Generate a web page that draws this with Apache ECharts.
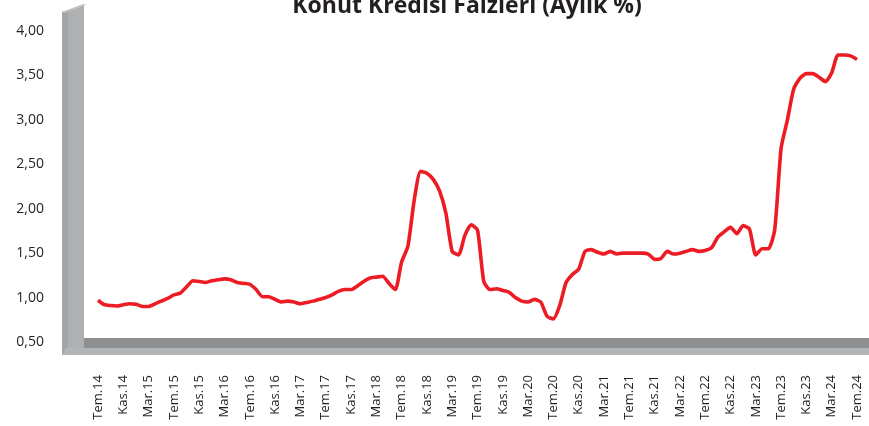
<!DOCTYPE html>
<html>
<head>
<meta charset="utf-8">
<script src="https://cdn.jsdelivr.net/npm/echarts@6/dist/echarts.min.js"></script>
<style>
html,body{margin:0;padding:0;background:#fff;}
#chart{width:869px;height:426px;}
</style>
</head>
<body>
<div id="chart"></div>
<script>
// Monthly categories: Tem.14 ... Tem.24
var monthNames = ['Oca','Şub','Mar','Nis','May','Haz','Tem','Ağu','Eyl','Eki','Kas','Ara'];
var startYear = 2014, startMonth = 6, monthCount = 121;
var categories = [];
for (var k = 0; k < monthCount; k++) {
  var m = (startMonth + k) % 12;
  var y = startYear + Math.floor((startMonth + k) / 12);
  categories.push(monthNames[m] + '.' + String(y).slice(2));
}

// Konut kredisi faizi (aylık %)
var rates = [
  0.97, 0.92, 0.91, 0.905, 0.92, 0.93, 0.925, 0.90, 0.90, 0.93,
  0.96, 0.99, 1.03, 1.05, 1.12, 1.19, 1.18, 1.17, 1.19, 1.20,
  1.21, 1.20, 1.17, 1.16, 1.15, 1.09, 1.01, 1.01, 0.98, 0.95,
  0.96, 0.95, 0.93, 0.945, 0.96, 0.98, 1.00, 1.03, 1.07, 1.09,
  1.09, 1.13, 1.18, 1.22, 1.23, 1.24, 1.16, 1.09, 1.40, 1.58,
  2.10, 2.42, 2.40, 2.33, 2.20, 1.95, 1.52, 1.48, 1.70, 1.82,
  1.76, 1.18, 1.09, 1.10, 1.08, 1.06, 1.00, 0.96, 0.95, 0.98,
  0.95, 0.79, 0.76, 0.91, 1.17, 1.26, 1.32, 1.52, 1.54, 1.51,
  1.49, 1.52, 1.49, 1.50, 1.50, 1.50, 1.50, 1.49, 1.43, 1.44,
  1.52, 1.49, 1.50, 1.52, 1.54, 1.52, 1.53, 1.56, 1.68, 1.74,
  1.79, 1.72, 1.81, 1.77, 1.48, 1.55, 1.55, 1.77, 2.68, 3.00,
  3.35, 3.47, 3.52, 3.52, 3.48, 3.43, 3.53, 3.73, 3.73, 3.72,
  3.68
];

var titleText = 'Konut Kredisi Faizleri (Aylık %)';
var yMin = 0.5, yMax = 4.0, yStep = 0.5;

var chart = echarts.init(document.getElementById('chart'), null, {renderer: 'canvas'});
chart.setOption({
  animation: false,
  backgroundColor: '#ffffff',
  grid: {left: 98, right: 12, top: 31, bottom: 84, containLabel: false},
  graphic: [
    {type: 'polygon', z: 0, silent: true, shape: {points: [[62,12],[84,4],[84,355],[62,355]]}, style: {fill: '#aeb0b2'}},
    {type: 'polygon', z: 0, silent: true, shape: {points: [[62,12],[68,10],[68,355],[62,355]]}, style: {fill: '#a2a4a6'}},
    {type: 'polygon', z: 0, silent: true, shape: {points: [[62,12],[84,4],[86,5],[64,13]]}, style: {fill: '#c4c5c7'}},
    {type: 'polygon', z: 0, silent: true, shape: {points: [[84,338],[869,338],[869,348],[84,348]]}, style: {fill: '#8f9092'}},
    {type: 'polygon', z: 0, silent: true, shape: {points: [[66,348],[869,348],[869,355],[62,355]]}, style: {fill: '#b3b4b6'}},
    {type: 'text', z: 10, silent: true, x: 467, y: 6,
      style: {text: titleText, align: 'center', verticalAlign: 'middle',
        font: 'bold 23px "Open Sans"', fill: '#231f20'}}
  ],
  xAxis: {
    type: 'category',
    data: categories,
    boundaryGap: false,
    axisLine: {show: false},
    axisTick: {show: false},
    splitLine: {show: false},
    axisLabel: {
      interval: 3,
      rotate: 90,
      margin: 33,
      fontFamily: 'Open Sans',
      fontSize: 13,
      color: '#231f20'
    }
  },
  yAxis: {
    type: 'value',
    min: yMin,
    max: yMax,
    interval: yStep,
    axisLine: {show: false},
    axisTick: {show: false},
    splitLine: {show: false},
    axisLabel: {
      margin: 54,
      fontFamily: 'Open Sans',
      fontSize: 14,
      color: '#231f20',
      formatter: function (v) { return v.toFixed(2).replace('.', ','); }
    }
  },
  series: [{
    type: 'line',
    data: rates,
    smooth: 0.2,
    symbol: 'none',
    z: 5,
    lineStyle: {color: '#ed1c24', width: 3.6}
  }]
});
</script>
</body>
</html>
